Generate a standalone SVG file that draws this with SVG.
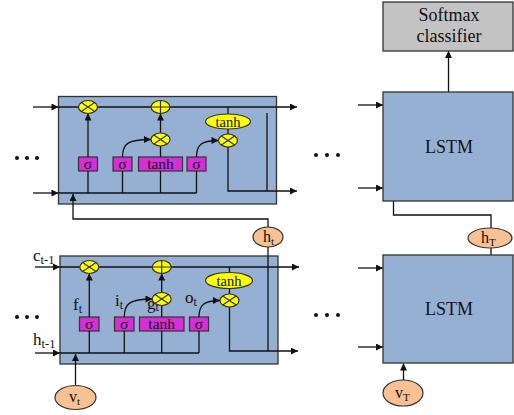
<svg xmlns="http://www.w3.org/2000/svg" width="514" height="415" viewBox="0 0 514 415">
  <defs>
    <marker id="ah" viewBox="0 0 10 10" refX="10" refY="5" markerWidth="8" markerHeight="7" markerUnits="userSpaceOnUse" orient="auto">
      <path d="M0,0 L10,5 L0,10 z" fill="#111"/>
    </marker>
    <style>
      .cell { fill: #95b0d2; stroke: #333; stroke-width: 1.3; }
      .gate { fill: #d62fd6; stroke: #333; stroke-width: 1.2; }
      .op { fill: #ffff00; stroke: #333; stroke-width: 1.2; }
      .opl { stroke: #333; stroke-width: 1.2; fill: none; }
      .io { fill: #f8c193; stroke: #333; stroke-width: 1.2; }
      .soft { fill: #c3c3c3; stroke: #333; stroke-width: 1.3; }
      .ln { fill: none; stroke: #111; stroke-width: 1.3; }
      .arr { fill: none; stroke: #111; stroke-width: 1.3; marker-end: url(#ah); }
      .t { font-family: "Liberation Serif", "Times New Roman", serif; fill: #111; }
      .dot { fill: #111; }
    </style>
  </defs>

  <!-- upper LSTM cell -->
  <g id="cell-top">
    <rect class="cell" x="58.5" y="96.5" width="218" height="107.5"/>
    <rect class="gate" x="78.5" y="157" width="19" height="14"/>
    <rect class="gate" x="113" y="157" width="19" height="14"/>
    <rect class="gate" x="138.5" y="157" width="44" height="14"/>
    <rect class="gate" x="187" y="157" width="19" height="14"/>
    <text class="t" x="88" y="169" font-size="15.5" text-anchor="middle">σ</text>
    <text class="t" x="122.5" y="169" font-size="15.5" text-anchor="middle">σ</text>
    <text class="t" x="160.5" y="169" font-size="15.5" text-anchor="middle">tanh</text>
    <text class="t" x="196.5" y="169" font-size="15.5" text-anchor="middle">σ</text>
  </g>

  <!-- lower LSTM cell -->
  <g id="cell-bottom">
    <rect class="cell" x="60" y="256" width="218" height="108"/>
    <text class="t" x="147" y="309" font-size="17">g<tspan font-size="12" dy="2">t</tspan></text>
    <rect class="gate" x="79.5" y="317" width="19.5" height="14"/>
    <rect class="gate" x="114.5" y="317" width="19.5" height="14"/>
    <rect class="gate" x="139.5" y="317" width="44.5" height="14"/>
    <rect class="gate" x="189.5" y="317" width="19" height="14"/>
    <text class="t" x="89.3" y="329" font-size="15.5" text-anchor="middle">σ</text>
    <text class="t" x="124.3" y="329" font-size="15.5" text-anchor="middle">σ</text>
    <text class="t" x="161.7" y="329" font-size="15.5" text-anchor="middle">tanh</text>
    <text class="t" x="199" y="329" font-size="15.5" text-anchor="middle">σ</text>
    <text class="t" x="73" y="310" font-size="17">f<tspan font-size="12" dy="3">t</tspan></text>
    <text class="t" x="115" y="306" font-size="17">i<tspan font-size="12" dy="3">t</tspan></text>
    <text class="t" x="185" y="303" font-size="17">o<tspan font-size="12" dy="3">t</tspan></text>
  </g>

  <!-- connectors -->
  <g id="connectors">
    <!-- upper cell -->
    <path class="arr" d="M33,107 H58.5"/>
    <path class="arr" d="M58.5,107 H297"/>
    <path class="arr" d="M33,193 H58.5"/>
    <path class="ln" d="M58.5,193 H196.5"/>
    <path class="ln" d="M88,171 V193 M122.5,171 V193 M160.5,171 V193 M196.5,171 V193"/>
    <path class="arr" d="M88,157 V113.5"/>
    <path class="arr" d="M122.5,157 C122.5,144 127,139.5 151,139.5"/>
    <path class="ln" d="M160.5,157 V146"/>
    <path class="arr" d="M160.5,133 V113.5"/>
    <path class="arr" d="M196.5,157 C196.5,145 201,140.5 218.5,140.5"/>
    <path class="ln" d="M228,107 V114 M228,129 V134"/>
    <path class="arr" d="M228,147 V191 H297"/>
    <path class="ln" d="M267,113 V191"/>
    <path class="arr" d="M268,227 V219 H73 V194"/>

    <!-- lower cell -->
    <path class="arr" d="M35,267 H60"/>
    <path class="arr" d="M60,267 H299"/>
    <path class="arr" d="M35,353 H60"/>
    <path class="ln" d="M60,353 H199"/>
    <path class="ln" d="M89.3,331 V353 M124.3,331 V353 M161.7,331 V353 M199,331 V353"/>
    <path class="arr" d="M89.3,317 V273.5"/>
    <path class="arr" d="M124.3,317 C124.3,304 129,299 152.5,299"/>
    <path class="ln" d="M161.7,317 V305.5"/>
    <path class="arr" d="M161.7,292.5 V273.5"/>
    <path class="arr" d="M199,317 C199,305 204,300.5 220,300.5"/>
    <path class="ln" d="M229.5,267 V272.5 M229.5,288.5 V294"/>
    <path class="arr" d="M229.5,307 V351 H298"/>
    <path class="ln" d="M268,247 V351"/>
    <path class="arr" d="M75.5,385.5 V354"/>

    <!-- right-hand column -->
    <path class="arr" d="M358,105 H383"/>
    <path class="arr" d="M358,188 H383"/>
    <path class="arr" d="M358,268 H383"/>
    <path class="arr" d="M358,347 H383"/>
    <path class="arr" d="M448.5,92 V51"/>
    <path class="arr" d="M491,228 V215 H393.5 V189"/>
    <path class="ln" d="M491,248 V263"/>
    <path class="arr" d="M403.5,380 V363.5"/>
  </g>

  <!-- gate operators, upper cell -->
  <g id="ops-top">
    <ellipse class="op" cx="88" cy="107" rx="9.5" ry="6.5"/>
    <path class="opl" d="M81.3,102.4 L94.7,111.6 M81.3,111.6 L94.7,102.4"/>
    <ellipse class="op" cx="160.5" cy="107" rx="9.5" ry="6.5"/>
    <path class="opl" d="M151,107 H170 M160.5,100.5 V113.5"/>
    <ellipse class="op" cx="160.5" cy="139.5" rx="9.5" ry="6.5"/>
    <path class="opl" d="M153.8,134.9 L167.2,144.1 M153.8,144.1 L167.2,134.9"/>
    <ellipse class="op" cx="228" cy="121.5" rx="22.5" ry="7.5"/>
    <text class="t" x="228" y="126.5" font-size="14.5" text-anchor="middle">tanh</text>
    <ellipse class="op" cx="228" cy="140.5" rx="9.5" ry="6.5"/>
    <path class="opl" d="M221.3,135.9 L234.7,145.1 M221.3,145.1 L234.7,135.9"/>
  </g>

  <!-- gate operators, lower cell -->
  <g id="ops-bottom">
    <ellipse class="op" cx="89.3" cy="267" rx="9.5" ry="6.5"/>
    <path class="opl" d="M82.6,262.4 L96,271.6 M82.6,271.6 L96,262.4"/>
    <ellipse class="op" cx="161.7" cy="267" rx="9.5" ry="6.5"/>
    <path class="opl" d="M152.2,267 H171.2 M161.7,260.5 V273.5"/>
    <ellipse class="op" cx="161.7" cy="299" rx="9.5" ry="6.5"/>
    <path class="opl" d="M155,294.4 L168.4,303.6 M155,303.6 L168.4,294.4"/>
    <ellipse class="op" cx="229" cy="280.5" rx="23.5" ry="8"/>
    <text class="t" x="229" y="285.5" font-size="14.5" text-anchor="middle">tanh</text>
    <ellipse class="op" cx="229.5" cy="300.5" rx="9.5" ry="6.5"/>
    <path class="opl" d="M222.8,295.9 L236.2,305.1 M222.8,305.1 L236.2,295.9"/>
  </g>

  <!-- external labels of the lower cell -->
  <g id="labels">
    <text class="t" x="33" y="261" font-size="17">c<tspan font-size="12.5" dy="3">t-1</tspan></text>
    <text class="t" x="33" y="345" font-size="17">h<tspan font-size="12.5" dy="3">t-1</tspan></text>
  </g>

  <g id="h-t">
    <ellipse class="io" cx="268" cy="237" rx="15" ry="10"/>
    <text class="t" x="263" y="242" font-size="16">h<tspan font-size="11" dy="3">t</tspan></text>
  </g>
  <g id="v-t">
    <ellipse class="io" cx="75.5" cy="397.5" rx="20.5" ry="12"/>
    <text class="t" x="69" y="402" font-size="16">v<tspan font-size="11" dy="3">t</tspan></text>
  </g>

  <g id="softmax">
    <rect class="soft" x="383" y="2" width="130" height="49"/>
    <text class="t" x="449" y="21" font-size="18" text-anchor="middle">Softmax</text>
    <text class="t" x="449" y="42" font-size="18" text-anchor="middle">classifier</text>
  </g>
  <g id="lstm-top">
    <rect class="cell" x="383" y="92" width="130" height="109"/>
    <text class="t" x="449" y="153" font-size="18" text-anchor="middle">LSTM</text>
  </g>
  <g id="lstm-bottom">
    <rect class="cell" x="383" y="255" width="130" height="108"/>
    <text class="t" x="449" y="315" font-size="18" text-anchor="middle">LSTM</text>
  </g>
  <g id="h-T">
    <ellipse class="io" cx="490" cy="238" rx="22" ry="10"/>
    <text class="t" x="481" y="243" font-size="16">h<tspan font-size="11" dy="3">T</tspan></text>
  </g>
  <g id="v-T">
    <ellipse class="io" cx="403" cy="393" rx="20" ry="13"/>
    <text class="t" x="395" y="398" font-size="16">v<tspan font-size="11" dy="3">T</tspan></text>
  </g>

  <!-- ellipsis marks between time steps -->
  <g id="ellipses">
    <circle class="dot" cx="17" cy="158" r="2"/>
    <circle class="dot" cx="27" cy="158" r="2"/>
    <circle class="dot" cx="37" cy="158" r="2"/>
    <circle class="dot" cx="17" cy="317" r="2"/>
    <circle class="dot" cx="27" cy="317" r="2"/>
    <circle class="dot" cx="37" cy="317" r="2"/>
    <circle class="dot" cx="316" cy="155" r="2"/>
    <circle class="dot" cx="327" cy="155" r="2"/>
    <circle class="dot" cx="338" cy="155" r="2"/>
    <circle class="dot" cx="316" cy="315" r="2"/>
    <circle class="dot" cx="327" cy="315" r="2"/>
    <circle class="dot" cx="338" cy="315" r="2"/>
  </g>
</svg>
